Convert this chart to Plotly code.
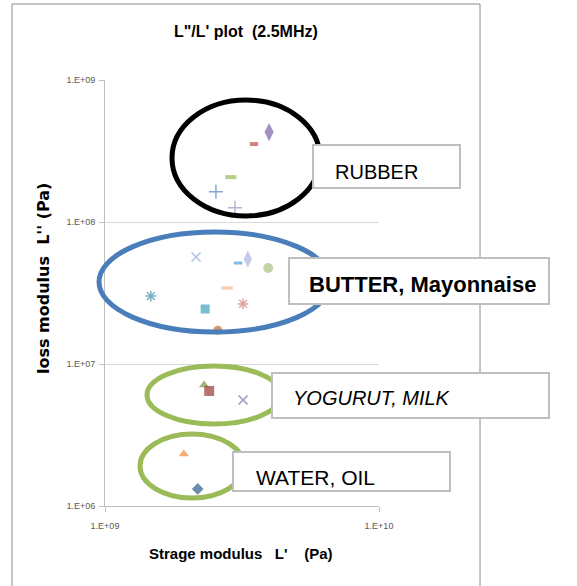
import plotly.graph_objects as go

# ---------------- data ----------------
rubber_x = [3.97e9, 3.50e9, 2.88e9, 2.54e9, 2.98e9]
rubber_y = [4.30e8, 3.54e8, 2.07e8, 1.63e8, 1.26e8]

butter_x = [2.15e9, 3.06e9, 3.32e9, 3.94e9, 2.79e9, 1.47e9, 3.19e9, 2.32e9, 2.58e9]
butter_y = [5.67e7, 5.14e7, 5.49e7, 4.74e7, 3.43e7, 3.01e7, 2.65e7, 2.44e7, 1.73e7]

yogurt_x = [2.30e9, 2.40e9, 3.19e9]
yogurt_y = [7.10e6, 6.46e6, 5.58e6]

water_x = [1.94e9, 2.18e9]
water_y = [2.32e6, 1.32e6]

y_tick_vals = [1e6, 1e7, 1e8, 1e9]
y_tick_text = ["1.E+06", "1.E+07", "1.E+08", "1.E+09"]
x_tick_vals = [1e9, 1e10]
x_tick_text = ["1.E+09", "1.E+10"]

group_labels = ["RUBBER", "BUTTER, Mayonnaise", "YOGURUT, MILK", "WATER, OIL"]

# ---------------- layout geometry ----------------
W, H = 577, 586
ML, MT = 105, 80
PW, PH = 274, 426
MR, MB = W - ML - PW, H - MT - PH


def px(x):
    """window pixel x -> paper x"""
    return (x - ML) / PW


def py(y):
    """window pixel y -> paper y"""
    return (MT + PH - y) / PH


# ---------------- styles ----------------
rubber_style = dict(
    symbol=["diamond-tall", "line-ew-open", "line-ew-open", "cross-thin-open", "cross-thin-open"],
    color=["#7F62A6", "#C0504D", "#9BBB59", "#4F81BD", "#A28DC4"],
    size=[13, 6, 8, 10, 10],
    lw=[0, 4, 4, 1.5, 1.5],
)
butter_style = dict(
    symbol=["x-thin-open", "line-ew-open", "diamond-tall", "circle", "line-ew-open",
            "asterisk-open", "asterisk-open", "square", "circle"],
    color=["#8FA6D6", "#4F9FD6", "#A9B6DB", "#A6C47E", "#F9B183",
           "#3E93A8", "#D07C7A", "#3F9FB8", "#C46E2A"],
    size=[9, 6, 12, 10, 8, 9, 9, 9, 9],
    lw=[1.5, 3, 0, 0, 3, 1.5, 1.5, 0, 0],
)
yogurt_style = dict(
    symbol=["triangle-up", "square", "x-thin-open"],
    color=["#77933C", "#953735", "#7866A3"],
    size=[9, 10, 9],
    lw=[0, 0, 1.5],
)
water_style = dict(
    symbol=["triangle-up", "diamond"],
    color=["#F38B3C", "#2F5A8E"],
    size=[9, 9],
    lw=[0, 0],
)

fig = go.Figure()
for name, xs, ys, st in [
    ("RUBBER", rubber_x, rubber_y, rubber_style),
    ("BUTTER", butter_x, butter_y, butter_style),
    ("YOGURT", yogurt_x, yogurt_y, yogurt_style),
    ("WATER", water_x, water_y, water_style),
]:
    fig.add_trace(go.Scatter(
        x=xs, y=ys, mode="markers", name=name, showlegend=False,
        marker=dict(symbol=st["symbol"], color=st["color"], size=st["size"],
                    line=dict(width=st["lw"], color=st["color"])),
    ))

shapes = []
# outer chart border
shapes.append(dict(type="rect", xref="paper", yref="paper",
                   x0=px(12), x1=px(480), y0=py(600), y1=py(4),
                   line=dict(color="#8C8C8C", width=1), layer="below"))


def ellipse(cx, cy, rx, ry, color):
    return dict(type="circle", xref="paper", yref="paper",
                x0=px(cx - rx), x1=px(cx + rx), y0=py(cy + ry), y1=py(cy - ry),
                line=dict(color=color, width=5), layer="above")


shapes.append(ellipse(246, 158, 74, 58, "#000000"))
shapes.append(ellipse(215, 282, 116, 50, "#4A7EBB"))
shapes.append(ellipse(214, 395, 67, 29, "#9BBB59"))
shapes.append(ellipse(192, 466, 52, 32, "#9BBB59"))


def box(x0, x1, y0, y1):
    return dict(type="rect", xref="paper", yref="paper",
                x0=px(x0), x1=px(x1), y0=py(y1), y1=py(y0),
                line=dict(color="#BFBFBF", width=2), fillcolor="white", layer="above")


shapes.append(box(313, 460, 145, 188))
shapes.append(box(289, 549, 258, 304))
shapes.append(box(272, 549, 373, 418))
shapes.append(box(233, 450, 452, 491))

annotations = [
    dict(text="<b>L\"/L' plot\u00a0\u00a0(2.5MHz)</b>", x=px(246), y=py(32), xref="paper", yref="paper",
         showarrow=False, xanchor="center", yanchor="middle",
         font=dict(family="Liberation Sans", size=16, color="#000000")),
    dict(text="<b>Strage modulus\u00a0\u00a0\u00a0L'\u00a0\u00a0\u00a0\u00a0(Pa)</b>", x=px(241), y=py(553),
         xref="paper", yref="paper", showarrow=False, xanchor="center", yanchor="middle",
         font=dict(family="Liberation Sans", size=15, color="#000000")),
    dict(text="<b>loss modulus\u00a0\u00a0L'' (Pa)</b>", x=px(43), y=py(279), xref="paper", yref="paper",
         showarrow=False, xanchor="center", yanchor="middle", textangle=-90,
         font=dict(family="DejaVu Sans", size=16, color="#000000")),
    dict(text=group_labels[0], x=px(333), y=py(172), xref="paper", yref="paper",
         showarrow=False, xanchor="left", yanchor="middle",
         font=dict(family="Liberation Sans", size=20, color="#000000")),
    dict(text="<b>" + group_labels[1] + "</b>", x=px(307), y=py(284), xref="paper", yref="paper",
         showarrow=False, xanchor="left", yanchor="middle",
         font=dict(family="Liberation Sans", size=22, color="#000000")),
    dict(text="<i>" + group_labels[2] + "</i>", x=px(291), y=py(398), xref="paper", yref="paper",
         showarrow=False, xanchor="left", yanchor="middle",
         font=dict(family="Liberation Sans", size=20, color="#000000")),
    dict(text=group_labels[3], x=px(254), y=py(477), xref="paper", yref="paper",
         showarrow=False, xanchor="left", yanchor="middle",
         font=dict(family="Liberation Sans", size=21, color="#000000")),
]

fig.update_layout(
    width=W, height=H,
    margin=dict(l=ML, r=MR, t=MT, b=MB, autoexpand=False),
    paper_bgcolor="white", plot_bgcolor="white",
    shapes=shapes, annotations=annotations,
    showlegend=False,
    xaxis=dict(type="log", range=[9, 10], tickvals=x_tick_vals, ticktext=x_tick_text,
               showgrid=False, zeroline=False, showline=True, linecolor="#BFBFBF", linewidth=1,
               ticks="outside", ticklen=5, tickcolor="#BFBFBF", ticklabelstandoff=6,
               tickfont=dict(family="Liberation Sans", size=9, color="#595959")),
    yaxis=dict(type="log", range=[6, 9], tickvals=y_tick_vals, ticktext=y_tick_text,
               showgrid=True, gridcolor="#D9D9D9", gridwidth=1, zeroline=False,
               showline=True, linecolor="#BFBFBF", linewidth=1,
               ticks="outside", ticklen=5, tickcolor="#BFBFBF", ticklabelstandoff=2,
               tickfont=dict(family="Liberation Sans", size=9, color="#595959")),
)

fig.write_html(
    "out.html",
    config={"displayModeBar": False},
    post_script="document.body.style.margin='0px';document.body.style.overflow='hidden';",
)
